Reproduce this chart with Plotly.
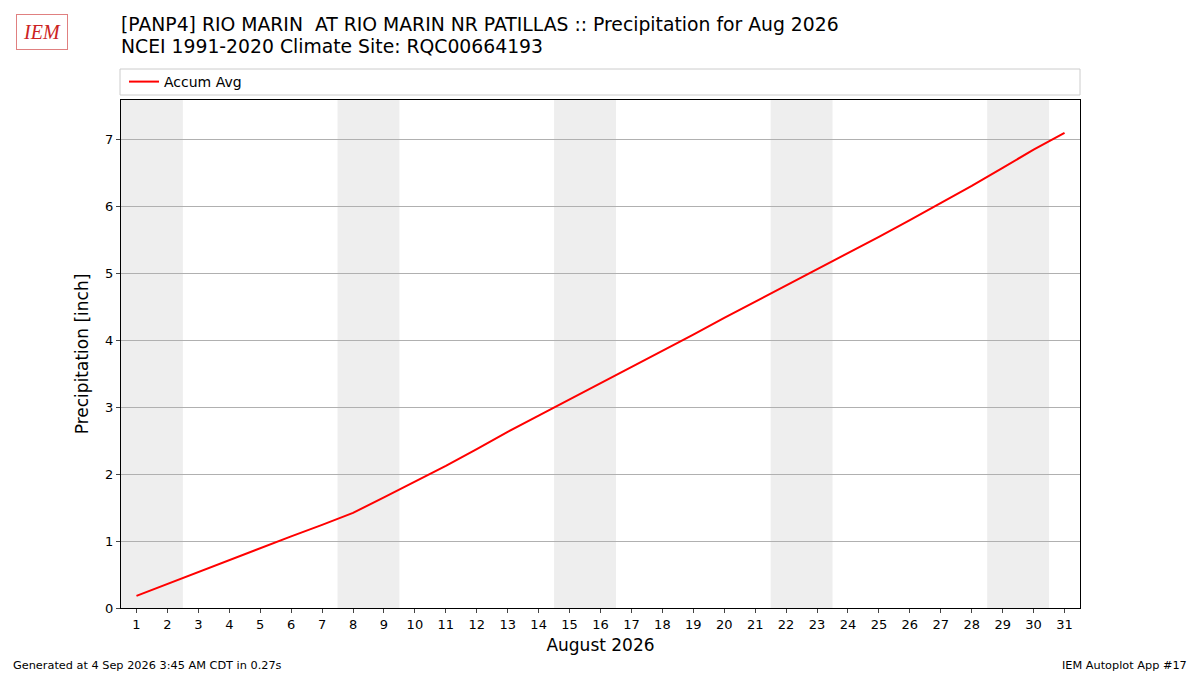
import plotly.graph_objects as go

days = list(range(1, 32))
accum_avg = [0.18, 0.36, 0.54, 0.72, 0.90, 1.07, 1.24, 1.42, 1.65, 1.88,
             2.12, 2.37, 2.63, 2.87, 3.11, 3.35, 3.60, 3.84, 4.08, 4.33,
             4.57, 4.81, 5.05, 5.29, 5.54, 5.79, 6.04, 6.30, 6.57, 6.84, 7.09]
weekend_starts = [1, 8, 15, 22, 29]

W, H = 1200, 675
OFF = 8  # page body margin in the browser
L, R, T, B = 121 - OFF, 1080 - OFF, 100 - OFF, 608 - OFF


def px(x):
    return (x - OFF - L) / (R - L)


def py(y):
    return (B - (y - OFF)) / (B - T)


font = "DejaVu Sans"

fig = go.Figure()
fig.add_trace(go.Scatter(x=days, y=accum_avg, mode="lines", name="Accum Avg",
                         line=dict(color="red", width=2)))

for d in weekend_starts:
    fig.add_vrect(x0=d - 0.5, x1=d + 1.5, fillcolor="#eeeeee", line_width=0, layer="below")

# legend box across the top
fig.add_shape(type="rect", xref="paper", yref="paper",
              x0=px(120), x1=px(1080), y0=py(95), y1=py(69),
              line=dict(color="#cccccc", width=1), fillcolor="white")

fig.add_annotation(x=px(119), y=py(24), xref="paper", yref="paper",
                   text="[PANP4] RIO MARIN  AT RIO MARIN NR PATILLAS :: Precipitation for Aug 2026",
                   showarrow=False, xanchor="left", yanchor="middle",
                   font=dict(size=18.8, color="black", family=font))
fig.add_annotation(x=px(119), y=py(47), xref="paper", yref="paper",
                   text="NCEI 1991-2020 Climate Site: RQC00664193",
                   showarrow=False, xanchor="left", yanchor="middle",
                   font=dict(size=18.8, color="black", family=font))
fig.add_annotation(x=px(11), y=py(665), xref="paper", yref="paper",
                   text="Generated at 4 Sep 2026 3:45 AM CDT in 0.27s",
                   showarrow=False, xanchor="left", yanchor="middle",
                   font=dict(size=11.3, color="black", family=font))
fig.add_annotation(x=px(1189), y=py(665), xref="paper", yref="paper",
                   text="IEM Autoplot App #17",
                   showarrow=False, xanchor="right", yanchor="middle",
                   font=dict(size=11.3, color="black", family=font))
# logo stand-in
fig.add_annotation(x=px(42), y=py(32), xref="paper", yref="paper",
                   text="<i>IEM</i>", showarrow=False, xanchor="center", yanchor="middle",
                   font=dict(size=20, color="#cc2222", family="Liberation Serif"),
                   bordercolor="#e08080", borderwidth=1, borderpad=6)

fig.update_layout(
    width=W, height=H,
    margin=dict(l=L, r=W - R, t=T, b=H - B, autoexpand=False),
    plot_bgcolor="white", paper_bgcolor="white",
    font=dict(family=font, color="black", size=13),
    showlegend=True,
    legend=dict(x=px(124), y=py(82), xanchor="left", yanchor="middle",
                bgcolor="rgba(0,0,0,0)", font=dict(size=14, family=font)),
    xaxis=dict(range=[0.5, 31.5], tickmode="array", tickvals=days,
               ticktext=[str(d) for d in days], ticks="outside", ticklen=4,
               showgrid=False, showline=True, linecolor="black", mirror=True,
               zeroline=False, tickfont=dict(size=13),
               title=dict(text="August 2026", font=dict(size=17), standoff=8)),
    yaxis=dict(range=[0, (B - T) / 67], tickvals=[0, 1, 2, 3, 4, 5, 6, 7],
               ticks="outside", ticklen=4, showgrid=True, gridcolor="#b0b0b0",
               showline=True, linecolor="black", mirror=True, zeroline=False,
               tickfont=dict(size=13),
               title=dict(text="Precipitation [inch]", font=dict(size=17), standoff=12)),
)

fig.write_html("out.html")
